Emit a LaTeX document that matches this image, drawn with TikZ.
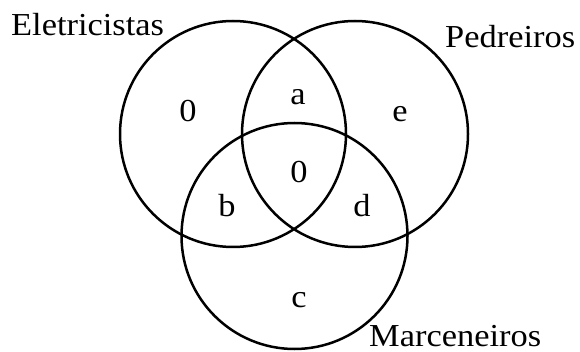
\documentclass[tikz,border=0pt]{standalone}
\usepackage{fontspec}
\setmainfont{Liberation Serif}[FakeStretch=1.075]
\begin{document}
\begin{tikzpicture}[x=1pt,y=-1pt,
  setcircle/.style={circle,draw,line width=2.5pt,minimum size=226pt,inner sep=0pt,outer sep=0pt},
  lbl/.style={anchor=base,inner sep=0pt,font=\fontsize{32}{38}\selectfont},
  setname/.style={anchor=base west,inner sep=0pt,font=\fontsize{32}{38}\selectfont}]
\useasboundingbox (0,0) rectangle (580,352);
\node[setcircle] (E) at (233,134) {};
\node[setcircle] (P) at (355,134) {};
\node[setcircle] (M) at (294.5,236) {};
\node[setname] (tE) at (11,36) {Eletricistas};
\node[setname] (tP) at (445,48) {Pedreiros};
\node[setname] (tM) at (369,346) {Marceneiros};
\node[lbl] (l0) at (188,122) {0};
\node[lbl] (la) at (298,105) {a};
\node[lbl] (le) at (400,122) {e};
\node[lbl] (lc0) at (299,183) {0};
\node[lbl] (lb) at (227,217) {b};
\node[lbl] (ld) at (362,217) {d};
\node[lbl] (lc) at (299,307) {c};
\end{tikzpicture}
\end{document}
